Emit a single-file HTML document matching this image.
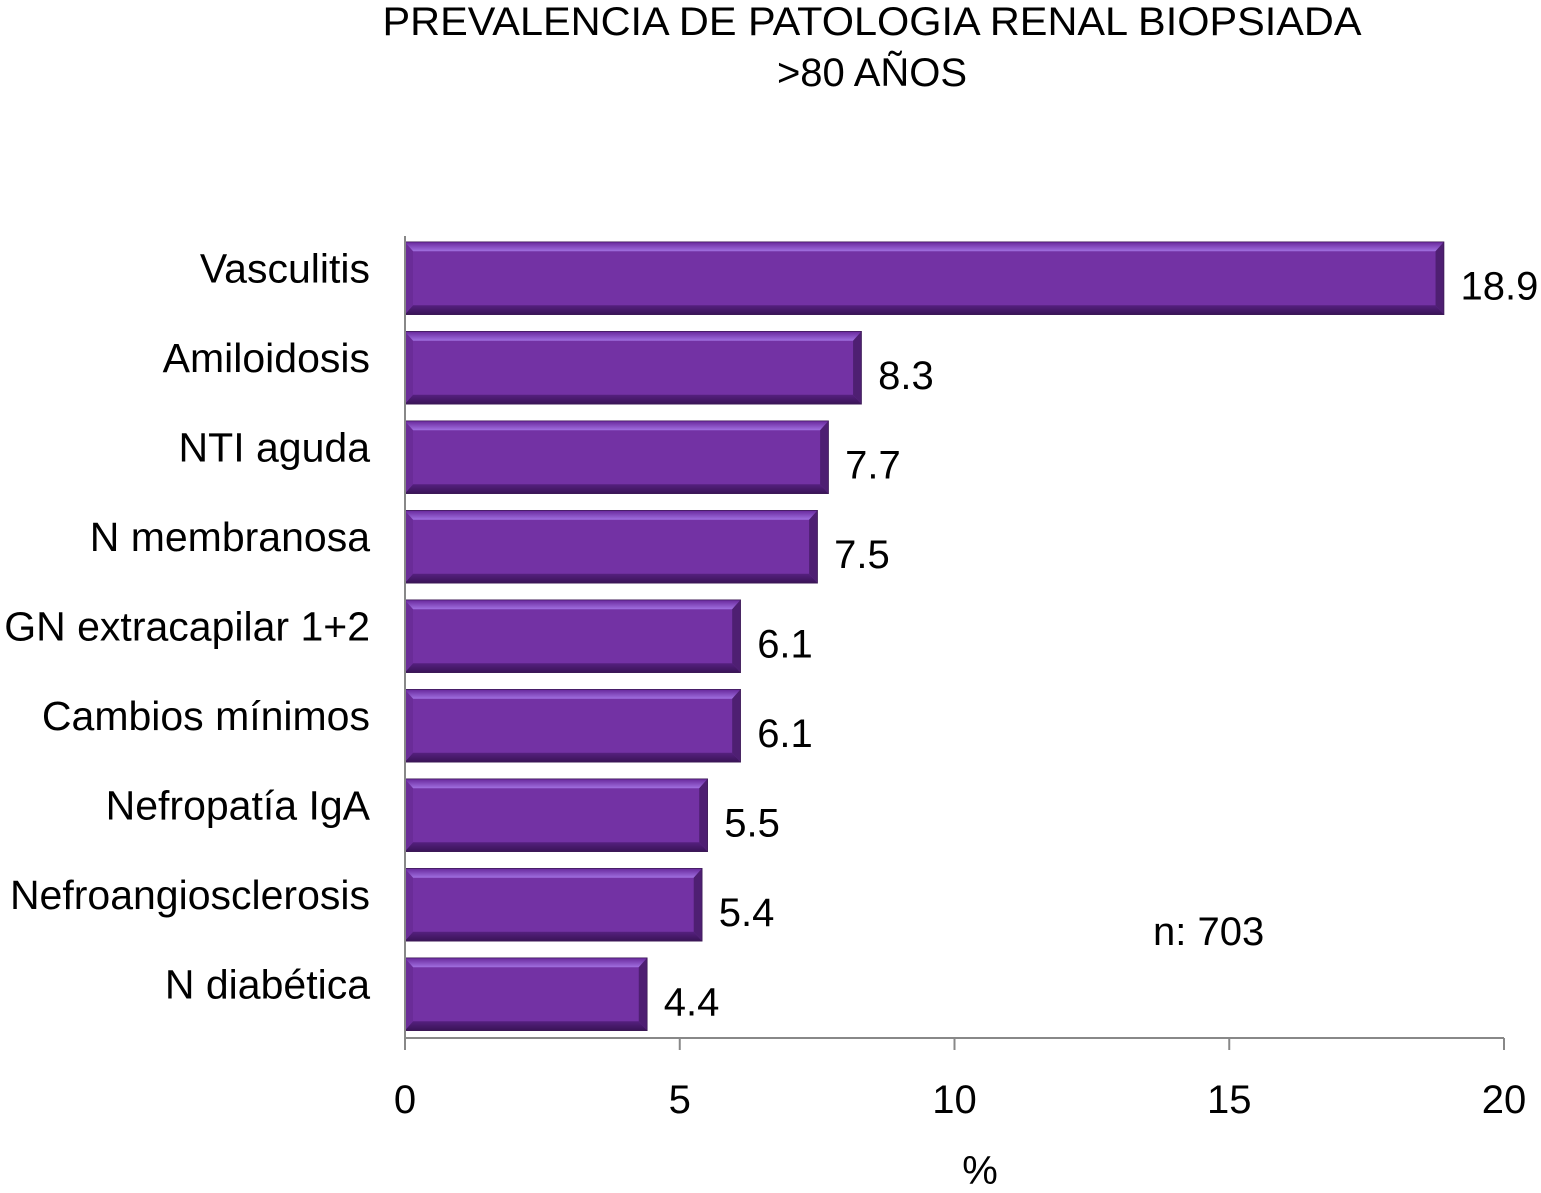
<!DOCTYPE html>
<html><head><meta charset="utf-8"><style>
body{margin:0;background:#fff;}
svg{display:block;font-family:"Liberation Sans",Arial,sans-serif;}
</style></head><body>
<svg id="chart" width="1541" height="1193" viewBox="0 0 1541 1193">
<defs>
<linearGradient id="top" x1="0" y1="0" x2="0" y2="1"><stop offset="0" stop-color="#6a2a9e"/><stop offset="1" stop-color="#a070e0"/></linearGradient>
<linearGradient id="bot" x1="0" y1="0" x2="0" y2="1"><stop offset="0" stop-color="#55207f"/><stop offset="1" stop-color="#3a1458"/></linearGradient>
</defs>
<text x="872" y="35" font-size="40" text-anchor="middle" textLength="979" lengthAdjust="spacingAndGlyphs">PREVALENCIA DE PATOLOGIA RENAL BIOPSIADA</text>
<text x="872" y="86" font-size="40" text-anchor="middle">&gt;80 AÑOS</text>
<g id="bars"></g>
<g id="axes"></g>
<text x="1153" y="945" font-size="40">n: 703</text>
<text x="980" y="1184" font-size="40" text-anchor="middle">%</text>
</svg>
<script>
const categories=["Vasculitis","Amiloidosis","NTI aguda","N membranosa","GN extracapilar 1+2","Cambios mínimos","Nefropatía IgA","Nefroangiosclerosis","N diabética"];
const values=[18.9,8.3,7.7,7.5,6.1,6.1,5.5,5.4,4.4];
const valueLabels=["18.9","8.3","7.7","7.5","6.1","6.1","5.5","5.4","4.4"];
const xTicks=[0,5,10,15,20];
const NS="http://www.w3.org/2000/svg";
const x0=405,x1=1504,yTop=232.5,yBot=1038;
const xs=v=>x0+(v/20)*(x1-x0);
const band=(yBot-yTop)/categories.length;
const bh=72;
function mk(t,a,p){const e=document.createElementNS(NS,t);for(const k in a)e.setAttribute(k,a[k]);p.appendChild(e);return e;}
const gb=document.getElementById('bars'),ga=document.getElementById('axes');
categories.forEach((c,i)=>{
 const y=yTop+i*band+(band-bh)/2+1,w=xs(values[i])-x0;
 const g=mk('g',{},gb);
 
 
 mk('rect',{x:x0,y:y,width:w,height:bh,fill:'#7332a4',stroke:'#3c1a55','stroke-width':1.5},g);
 mk('polygon',{points:`${x0},${y} ${x0+w},${y} ${x0+w-8},${y+9} ${x0+8},${y+9}`,fill:'url(#top)'},g);
 mk('polygon',{points:`${x0},${y+bh} ${x0+w},${y+bh} ${x0+w-8},${y+bh-9} ${x0+8},${y+bh-9}`,fill:'url(#bot)'},g);
 mk('polygon',{points:`${x0+w},${y} ${x0+w},${y+bh} ${x0+w-8},${y+bh-9} ${x0+w-8},${y+9}`,fill:'#4e1f72'},g);
 mk('polygon',{points:`${x0},${y} ${x0},${y+bh} ${x0+8},${y+bh-9} ${x0+8},${y+9}`,fill:'#6a2c98'},g);
 const l=mk('text',{x:370,y:y+bh/2+4,'font-size':41,'text-anchor':'end'},gb);l.textContent=c;
 
 
 const v=mk('text',{x:xs(values[i])+17,y:y+bh/2+21,'font-size':40},gb);v.textContent=valueLabels[i];
 
 
});
const ax=mk('line',{x1:x0,y1:yBot,x2:x1,y2:yBot,stroke:'#888','stroke-width':2},ga);


const ay=mk('line',{x1:x0,y1:236,x2:x0,y2:1050,stroke:'#888','stroke-width':2},ga);


xTicks.forEach(t=>{
 mk('line',{x1:xs(t),y1:yBot,x2:xs(t),y2:1050,stroke:'#888','stroke-width':2},ga);
 const tl=mk('text',{x:xs(t),y:1113,'font-size':40,'text-anchor':'middle'},ga);tl.textContent=t;
 
 
});
</script>
</body></html>
